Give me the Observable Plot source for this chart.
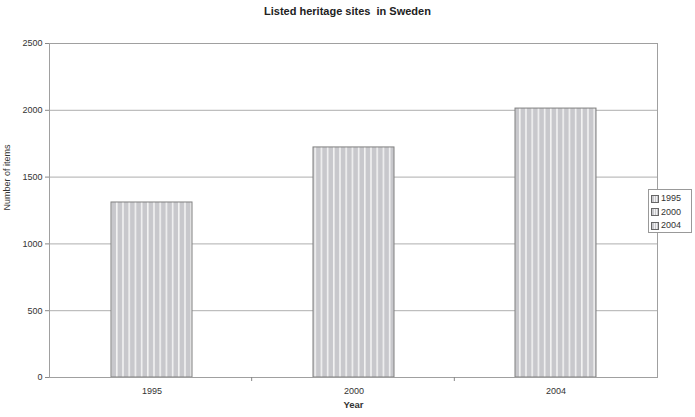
<!DOCTYPE html>
<html><head><meta charset="utf-8">
<script src="https://cdn.jsdelivr.net/npm/d3@7"></script>
<script src="https://cdn.jsdelivr.net/npm/@observablehq/plot@0.6"></script>
<style>
body{margin:0;background:#fff;font-family:"Liberation Sans",Arial,sans-serif;}
#wrap{position:relative;width:695px;height:417px;}
#title{position:absolute;left:0;top:5px;width:695px;text-align:center;font-size:11px;font-weight:bold;color:#222;}
#chart{position:absolute;left:0;top:30px;}
#legend{position:absolute;left:648px;top:189px;width:44px;height:44px;border:1px solid #999;background:#fff;font-size:9px;color:#333;box-sizing:border-box;padding:2px 0 0 2px;}
#legend div{height:13.5px;line-height:13px;display:flex;align-items:center;}
#legend span.sw{display:inline-block;width:6px;height:6px;border:1px solid #666;margin-right:2px;background:#ccc;}
</style></head>
<body>
<svg width="0" height="0" style="position:absolute">
<defs>
<pattern id="stripes" patternUnits="userSpaceOnUse" width="6.2" height="10">
<rect width="6.2" height="10" fill="#c8c8cc"></rect>
<rect x="4.4" width="1.6" height="10" fill="#f2f2f2"></rect>
</pattern>
</defs>
</svg>
<div id="wrap">
<div id="title">Listed heritage sites&nbsp; in Sweden</div>
<div id="chart"></div>
<div id="legend"></div>
</div>
<script>
const years = ["1995", "2000", "2004"];
const counts = [1310, 1722, 2013];
const yTicks = [0, 500, 1000, 1500, 2000, 2500];

const data = years.map((y, i) => ({year: y, value: counts[i]}));

const chart = Plot.plot({
  width: 695,
  height: 387,
  marginTop: 13,
  marginBottom: 40,
  marginLeft: 49,
  marginRight: 38,
  style: {fontFamily: "Liberation Sans, Arial, sans-serif", fontSize: "9px", color: "#333"},
  x: {domain: years, paddingInner: 0.6, paddingOuter: 0.3, label: null},
  y: {domain: [0, 2500], ticks: yTicks, tickFormat: "d", label: null},
  marks: [
    Plot.gridY(yTicks, {stroke: "#999", strokeOpacity: 1, strokeWidth: 0.8}),
    Plot.barY(data, {x: "year", y: "value", fill: "url(#stripes)", stroke: "#808080", strokeWidth: 1}),
    Plot.frame({stroke: "#a0a0a0"}),
    Plot.axisY(yTicks, {tickSize: 4, tickPadding: 3, tickFormat: "d", stroke: "#888", fill: "#333"}),
    Plot.axisX(years, {tickSize: 0, tickPadding: 10, fill: "#333"}),
    Plot.text(["Number of items"], {frameAnchor: "left", dx: -42, rotate: -90, fontSize: 9, fill: "#333"}),
    Plot.text(["Year"], {frameAnchor: "bottom", dy: 30, fontSize: 9.5, fontWeight: "bold", fill: "#333"})
  ]
});
document.getElementById("chart").appendChild(chart);

// tick marks at category boundaries on the x axis
const ys = chart.scale("y");
const svg = d3.select(chart);
const left = 49, right = 695 - 38, bandW = (right - left) / years.length;
svg.append("g").selectAll("line").data(d3.range(1, years.length)).join("line")
  .attr("x1", i => left + i * bandW).attr("x2", i => left + i * bandW)
  .attr("y1", ys.apply(0)).attr("y2", ys.apply(0) + 4)
  .attr("stroke", "#888");

const leg = document.getElementById("legend");
years.forEach(y => {
  const d = document.createElement("div");
  d.innerHTML = `<span class="sw"></span>${y}`;
  d.querySelector(".sw").style.background = "repeating-linear-gradient(90deg,#c8c8cc 0 1.5px,#f2f2f2 1.5px 2.5px)";
  leg.appendChild(d);
});
</script>
</body></html>
